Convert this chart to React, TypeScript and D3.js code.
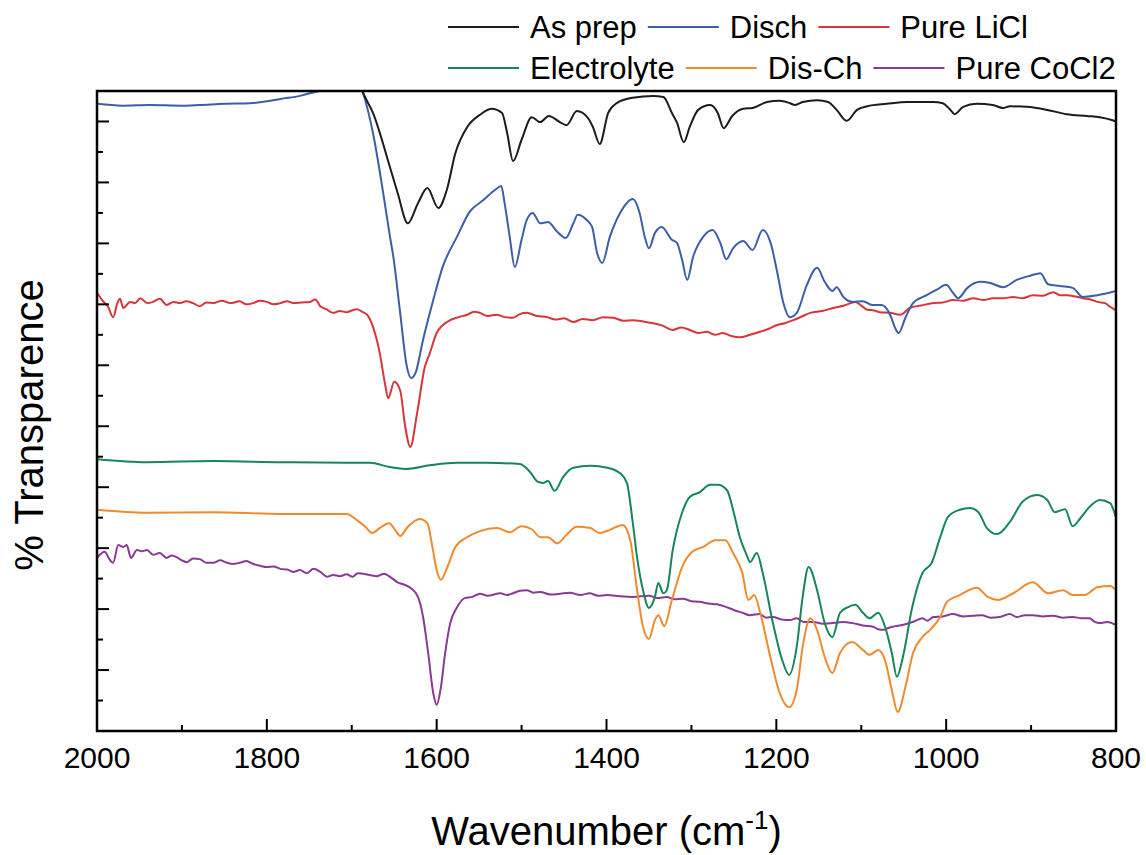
import React, { useEffect, useRef } from 'react';
import * as d3 from 'd3';

type Pt = [number, number];

// wavenumber (cm-1), % transparence (offset stacked spectra, axis unlabeled)
const asPrep: Pt[] = [
  [1712, 112], [1700, 110], [1687, 104.8], [1675, 101.4], [1655, 92.5], [1646, 88.3], [1634, 83.3], [1622, 86.6],
  [1611, 89.1], [1598, 85.8], [1588, 88.8], [1578, 94.8], [1564, 99.1], [1549, 101.1], [1535, 102.1], [1523, 101.4],
  [1517, 98.1], [1510, 93.5], [1500, 97.0], [1488, 100.7], [1478, 99.9], [1468, 100.9], [1455, 99.9], [1447, 99.4],
  [1435, 101.7], [1422, 100.6], [1416, 99.1], [1408, 96.3], [1398, 101.4], [1388, 103.0], [1369, 103.9], [1345, 104.2],
  [1333, 104.0], [1323, 101.4], [1317, 99.8], [1309, 96.6], [1302, 99.1], [1292, 101.9], [1278, 102.7], [1269, 101.4],
  [1262, 98.9], [1252, 100.9], [1239, 102.1], [1228, 102.2], [1211, 103.2], [1196, 103.4], [1184, 103.0], [1178, 102.7],
  [1169, 103.2], [1152, 103.5], [1139, 103.2], [1129, 101.9], [1117, 100.1], [1105, 101.9], [1093, 102.5], [1070, 102.9],
  [1046, 103.2], [1015, 103.2], [1004, 103.0], [995, 101.9], [990, 101.2], [980, 102.4], [964, 102.9], [945, 102.7],
  [933, 102.2], [925, 102.5], [905, 102.4], [881, 101.9], [858, 101.2], [834, 100.9], [819, 100.7], [804, 100.2], [800, 100.0],
];

const disch: Pt[] = [
  [2000, 102.9], [1970, 102.6], [1938, 102.7], [1900, 102.6], [1879, 102.7], [1850, 102.9], [1820, 103.0], [1800, 103.3],
  [1784, 103.7], [1761, 104.2], [1747, 104.7], [1735, 105.2], [1720, 108], [1700, 108], [1687, 104.8], [1675, 98.1],
  [1663, 88.3], [1655, 81.1], [1651, 77.8], [1643, 68.6], [1635, 59.7], [1630, 57.9], [1625, 58.7], [1616, 64.2],
  [1604, 70.7], [1593, 76.1], [1576, 81.1], [1561, 85.2], [1545, 87.1], [1531, 88.8], [1524, 89.4], [1520, 86.6],
  [1514, 81.1], [1508, 76.1], [1500, 80.6], [1494, 83.8], [1487, 85.0], [1478, 83.3], [1469, 83.5], [1458, 81.9],
  [1448, 80.9], [1439, 83.3], [1434, 84.7], [1423, 83.8], [1417, 82.7], [1411, 78.4], [1405, 76.8], [1396, 81.1],
  [1384, 85.0], [1369, 87.3], [1361, 85.0], [1355, 81.1], [1350, 79.2], [1343, 81.7], [1335, 82.7], [1323, 80.6],
  [1317, 80.1], [1311, 77.3], [1305, 74.0], [1298, 77.8], [1286, 81.1], [1275, 82.2], [1266, 80.1], [1259, 77.4],
  [1251, 79.2], [1239, 80.4], [1228, 78.9], [1216, 82.2], [1207, 80.2], [1199, 75.3], [1192, 70.4], [1184, 67.9],
  [1176, 68.6], [1164, 73.2], [1152, 76.0], [1143, 73.7], [1134, 72.2], [1129, 72.8], [1121, 71.2], [1110, 70.4],
  [1098, 70.5], [1087, 69.9], [1076, 69.9], [1066, 68.3], [1060, 66.1], [1056, 65.3], [1048, 67.8], [1039, 70.2],
  [1023, 71.5], [1011, 72.4], [1000, 73.2], [992, 71.9], [986, 71.0], [975, 72.7], [960, 73.7], [948, 73.5],
  [933, 72.8], [917, 74.0], [901, 74.7], [889, 75.1], [880, 73.3], [866, 73.0], [851, 72.7], [839, 71.2],
  [822, 71.5], [800, 72.2],
];

const pureLiCl: Pt[] = [
  [2000, 71.9], [1994, 70.7], [1987, 69.6], [1981, 67.9], [1976, 70.2], [1973, 70.9], [1969, 69.4], [1961, 70.4],
  [1955, 70.2], [1949, 71.0], [1941, 70.2], [1934, 70.4], [1926, 70.9], [1918, 69.9], [1910, 70.4], [1902, 70.2],
  [1895, 70.5], [1887, 70.2], [1879, 69.7], [1871, 70.3], [1863, 70.2], [1853, 70.6], [1843, 70.2], [1832, 70.5],
  [1824, 70.0], [1816, 70.2], [1808, 70.6], [1800, 70.4], [1792, 70.0], [1784, 70.2], [1776, 70.5], [1769, 70.2],
  [1759, 70.3], [1749, 70.4], [1743, 70.8], [1737, 69.7], [1730, 69.2], [1722, 68.6], [1714, 68.9], [1706, 68.7],
  [1700, 69.0], [1694, 69.2], [1688, 68.8], [1682, 68.3], [1675, 66.3], [1667, 62.0], [1661, 57.1], [1657, 54.6],
  [1650, 57.3], [1643, 55.9], [1637, 49.9], [1631, 46.6], [1623, 52.2], [1614, 59.7], [1608, 62.0], [1600, 65.3],
  [1584, 67.4], [1574, 67.9], [1564, 68.3], [1556, 68.8], [1549, 68.6], [1540, 68.1], [1529, 68.3], [1520, 67.9],
  [1510, 67.8], [1502, 68.4], [1494, 68.6], [1482, 68.1], [1470, 67.9], [1460, 67.5], [1450, 67.7], [1439, 67.1],
  [1428, 67.6], [1416, 67.4], [1404, 67.9], [1392, 67.8], [1380, 67.3], [1369, 67.4], [1357, 67.2], [1345, 66.9],
  [1334, 66.5], [1322, 65.8], [1312, 66.2], [1302, 65.8], [1292, 65.3], [1282, 65.5], [1272, 65.0], [1263, 65.3],
  [1253, 64.8], [1243, 64.6], [1231, 65.0], [1219, 65.5], [1209, 66.0], [1199, 66.6], [1190, 66.9], [1180, 67.4],
  [1170, 68.0], [1160, 68.6], [1146, 68.9], [1133, 69.4], [1120, 69.8], [1107, 70.4], [1100, 69.8], [1093, 69.1],
  [1085, 69.0], [1078, 68.7], [1066, 68.6], [1054, 68.3], [1043, 69.4], [1030, 69.8], [1015, 70.2], [1004, 70.3],
  [992, 70.7], [980, 70.6], [968, 71.0], [956, 70.7], [945, 71.0], [933, 71.0], [921, 71.2], [910, 71.0],
  [898, 71.5], [886, 71.4], [874, 72.0], [866, 71.5], [858, 71.5], [848, 71.3], [839, 71.0], [830, 70.8],
  [822, 70.4], [813, 70.2], [807, 69.6], [801, 69.1], [800, 69.0],
];

const electrolyte: Pt[] = [
  [2000, 44.6], [1941, 44.1], [1863, 44.3], [1784, 44.1], [1706, 44.0], [1679, 44.0], [1655, 43.3], [1637, 43.0],
  [1608, 43.6], [1576, 44.0], [1541, 44.0], [1502, 43.8], [1490, 42.5], [1481, 40.9], [1475, 40.7], [1469, 41.0],
  [1461, 39.4], [1451, 41.7], [1439, 43.2], [1419, 43.5], [1399, 43.2], [1384, 42.3], [1376, 40.7], [1369, 34.1],
  [1364, 28.5], [1357, 23.1], [1350, 20.2], [1343, 22.0], [1339, 24.3], [1333, 22.6], [1329, 23.1], [1322, 29.7],
  [1311, 35.8], [1302, 38.4], [1290, 39.2], [1278, 40.4], [1269, 40.4], [1258, 39.5], [1251, 36.3], [1243, 31.8],
  [1235, 28.9], [1231, 27.7], [1223, 29.2], [1216, 25.9], [1204, 17.7], [1193, 11.6], [1185, 9.2], [1176, 13.8],
  [1169, 22.0], [1162, 26.9], [1152, 23.1], [1143, 17.7], [1134, 15.4], [1125, 19.4], [1116, 20.3], [1107, 20.7],
  [1098, 19.4], [1090, 18.5], [1080, 19.4], [1072, 17.1], [1064, 12.8], [1058, 8.9], [1051, 12.1], [1040, 20.3],
  [1028, 25.9], [1017, 27.6], [1007, 31.8], [998, 35.1], [984, 36.3], [972, 36.6], [962, 35.9], [952, 33.3],
  [940, 32.3], [925, 34.3], [910, 37.6], [893, 38.7], [881, 37.9], [872, 35.9], [860, 36.4], [851, 33.6],
  [842, 34.9], [831, 36.8], [819, 37.9], [807, 37.4], [800, 35.0],
];

const disCh: Pt[] = [
  [2000, 36.3], [1941, 35.8], [1863, 35.9], [1784, 35.6], [1706, 35.6], [1694, 34.6], [1684, 33.5], [1676, 32.5],
  [1667, 33.3], [1656, 34.1], [1649, 33.0], [1643, 32.0], [1634, 33.5], [1620, 34.8], [1611, 34.1], [1605, 30.2],
  [1600, 26.4], [1595, 24.8], [1588, 26.7], [1578, 30.2], [1564, 31.8], [1549, 32.8], [1529, 33.3], [1514, 32.6],
  [1500, 33.6], [1488, 33.1], [1478, 31.8], [1469, 31.8], [1458, 30.8], [1447, 32.2], [1435, 33.5], [1419, 33.3],
  [1408, 32.5], [1396, 33.0], [1381, 33.8], [1372, 31.3], [1364, 23.1], [1357, 17.1], [1350, 15.1], [1343, 18.2],
  [1339, 19.0], [1332, 17.2], [1323, 21.5], [1311, 26.9], [1299, 29.4], [1286, 30.2], [1272, 31.3], [1260, 31.3],
  [1251, 29.2], [1240, 25.9], [1233, 21.5], [1226, 22.3], [1219, 19.4], [1207, 12.1], [1196, 6.2], [1185, 3.9],
  [1176, 6.7], [1169, 13.8], [1160, 18.5], [1152, 16.6], [1143, 12.1], [1134, 9.5], [1125, 12.8], [1111, 14.6],
  [1098, 13.3], [1090, 12.5], [1080, 13.3], [1072, 11.6], [1064, 6.7], [1057, 3.1], [1048, 7.2], [1039, 12.8],
  [1028, 15.4], [1019, 16.6], [1007, 18.7], [999, 21.2], [984, 22.3], [964, 23.5], [951, 22.0], [939, 21.5],
  [921, 22.6], [898, 24.4], [880, 22.6], [862, 23.1], [851, 22.3], [837, 22.3], [822, 23.6], [807, 23.8], [800, 23.1],
];

const pureCoCl2: Pt[] = [
  [2000, 28.4], [1991, 29.4], [1985, 28.1], [1981, 27.6], [1975, 30.5], [1969, 30.2], [1965, 30.5], [1960, 28.4],
  [1953, 29.7], [1947, 29.5], [1941, 29.7], [1934, 28.9], [1926, 29.2], [1918, 28.4], [1912, 28.8], [1906, 28.5],
  [1900, 28.0], [1894, 27.7], [1887, 28.3], [1879, 28.2], [1871, 27.6], [1863, 27.6], [1855, 28.0], [1847, 27.6],
  [1840, 27.4], [1832, 27.6], [1824, 27.9], [1816, 27.4], [1808, 27.1], [1800, 26.9], [1792, 27.0], [1784, 26.6],
  [1776, 26.5], [1769, 26.1], [1761, 26.4], [1753, 25.9], [1745, 26.6], [1737, 26.1], [1729, 25.3], [1722, 25.6],
  [1714, 25.4], [1706, 25.7], [1699, 25.3], [1693, 25.9], [1687, 25.8], [1679, 25.6], [1670, 25.4], [1662, 25.8],
  [1655, 25.3], [1646, 24.4], [1638, 24.0], [1631, 23.5], [1622, 22.0], [1616, 18.7], [1610, 12.8], [1604, 6.2],
  [1600, 4.3], [1595, 7.2], [1590, 12.8], [1584, 17.7], [1576, 20.3], [1567, 21.8], [1558, 22.0], [1549, 22.5],
  [1540, 22.2], [1525, 22.6], [1517, 22.3], [1510, 22.6], [1502, 23.0], [1494, 23.1], [1486, 22.7], [1478, 22.8],
  [1466, 22.4], [1455, 22.5], [1443, 22.7], [1431, 22.3], [1420, 22.6], [1410, 22.2], [1399, 22.3], [1384, 22.1],
  [1369, 22.0], [1350, 22.2], [1340, 21.8], [1329, 22.0], [1320, 21.6], [1310, 21.7], [1300, 21.3], [1290, 21.2],
  [1280, 20.9], [1270, 20.8], [1260, 20.4], [1251, 19.9], [1240, 19.4], [1231, 19.0], [1220, 19.2], [1212, 18.6],
  [1204, 18.7], [1194, 18.3], [1184, 18.2], [1176, 18.5], [1168, 17.9], [1157, 17.9], [1145, 17.6], [1133, 17.7],
  [1122, 17.9], [1110, 17.7], [1098, 17.3], [1086, 17.1], [1080, 16.7], [1074, 16.6], [1068, 16.9], [1063, 17.1],
  [1055, 17.3], [1046, 17.6], [1037, 18.0], [1028, 18.5], [1022, 18.1], [1015, 18.7], [1004, 18.8], [992, 19.2],
  [980, 18.8], [968, 18.9], [958, 19.0], [948, 18.6], [937, 18.7], [925, 19.2], [917, 18.7], [907, 19.0],
  [898, 19.0], [886, 18.8], [874, 18.9], [862, 18.6], [851, 18.7], [840, 18.5], [831, 18.5], [825, 17.9],
  [819, 17.7], [810, 17.9], [800, 17.4],
];

const seriesNames = ['As prep', 'Disch', 'Pure LiCl', 'Electrolyte', 'Dis-Ch', 'Pure CoCl2'];
const seriesColors = ['#1c1c1c', '#3c5ea8', '#d8353b', '#17855a', '#f08a2e', '#8a3a95'];
const seriesData = [asPrep, disch, pureLiCl, electrolyte, disCh, pureCoCl2];

const majorXTicks = [2000, 1800, 1600, 1400, 1200, 1000, 800];
const minorXTicks = [1900, 1700, 1500, 1300, 1100, 900];
const yTicks = d3.range(5, 105, 5);

const FONT = 'Arial, "Liberation Sans", sans-serif';

function FtirChart() {
  const ref = useRef<SVGSVGElement>(null);

  useEffect(() => {
    document.body.style.margin = '0';
    const svg = d3.select(ref.current);
    svg.selectAll('*').remove();

    const margin = { top: 91, right: 30, bottom: 124, left: 97 };
    const width = 1146 - margin.left - margin.right;
    const height = 855 - margin.top - margin.bottom;

    const x = d3.scaleLinear().domain([2000, 800]).range([0, width]);
    const y = d3.scaleLinear().domain([0, 105]).range([height, 0]);

    const g = svg.append('g').attr('transform', `translate(${margin.left},${margin.top})`);

    svg.append('defs').append('clipPath').attr('id', 'plotclip')
      .append('rect').attr('x', 0).attr('y', 0).attr('width', width).attr('height', height);

    const line = d3.line<Pt>()
      .x(d => x(d[0]))
      .y(d => y(d[1]))
      .curve(d3.curveMonotoneX);

    // draw back to front
    const order = [5, 4, 3, 2, 1, 0];
    const plot = g.append('g').attr('clip-path', 'url(#plotclip)');
    order.forEach(i => {
      plot.append('path')
        .datum(seriesData[i])
        .attr('d', line)
        .attr('fill', 'none')
        .attr('stroke', seriesColors[i])
        .attr('stroke-width', 2)
        .attr('stroke-linejoin', 'round');
    });

    // frame
    g.append('rect')
      .attr('x', 0).attr('y', 0).attr('width', width).attr('height', height)
      .attr('fill', 'none').attr('stroke', '#000').attr('stroke-width', 2.5);

    // x ticks (inward)
    g.selectAll('.xmaj').data(majorXTicks).enter().append('line')
      .attr('x1', d => x(d)).attr('x2', d => x(d))
      .attr('y1', height).attr('y2', height - 12)
      .attr('stroke', '#000').attr('stroke-width', 2);
    g.selectAll('.xmin').data(minorXTicks).enter().append('line')
      .attr('x1', d => x(d)).attr('x2', d => x(d))
      .attr('y1', height).attr('y2', height - 6)
      .attr('stroke', '#000').attr('stroke-width', 2);

    g.selectAll('.xlab').data(majorXTicks).enter().append('text')
      .attr('x', d => x(d)).attr('y', height + 37)
      .attr('text-anchor', 'middle')
      .style('font-family', FONT).style('font-size', '30px')
      .text(d => d);

    // y ticks, no labels
    g.selectAll('.yt').data(yTicks).enter().append('line')
      .attr('x1', 0).attr('x2', d => (d % 10 === 0 ? 12 : 6))
      .attr('y1', d => y(d)).attr('y2', d => y(d))
      .attr('stroke', '#000').attr('stroke-width', 2);

    // axis titles
    const xt = svg.append('text')
      .attr('x', margin.left + width / 2).attr('y', 845)
      .attr('text-anchor', 'middle')
      .style('font-family', FONT).style('font-size', '40px');
    xt.append('tspan').text('Wavenumber (cm');
    xt.append('tspan').attr('dy', -16).style('font-size', '26px').text('-1');
    xt.append('tspan').attr('dy', 16).text(')');

    svg.append('text')
      .attr('transform', `translate(43,${margin.top + height / 2 + 14}) rotate(-90)`)
      .attr('text-anchor', 'middle')
      .style('font-family', FONT).style('font-size', '40px')
      .text('% Transparence');

    // legend, two rows of three
    const rows = [[0, 1, 2], [3, 4, 5]];
    const baselines = [38, 79];
    rows.forEach((row, r) => {
      let cx = 448;
      row.forEach(i => {
        svg.append('line')
          .attr('x1', cx).attr('x2', cx + 71)
          .attr('y1', baselines[r] - 11).attr('y2', baselines[r] - 11)
          .attr('stroke', seriesColors[i]).attr('stroke-width', 2);
        cx += 82;
        const t = svg.append('text')
          .attr('x', cx).attr('y', baselines[r])
          .style('font-family', FONT).style('font-size', '31px')
          .text(seriesNames[i]);
        const node = t.node() as SVGTextElement;
        cx += node.getComputedTextLength() + 11;
      });
    });
  }, []);

  return <svg ref={ref} width={1146} height={855} style={{ display: 'block', background: '#fff' }} />;
}

export default function App() {
  return <FtirChart />;
}
